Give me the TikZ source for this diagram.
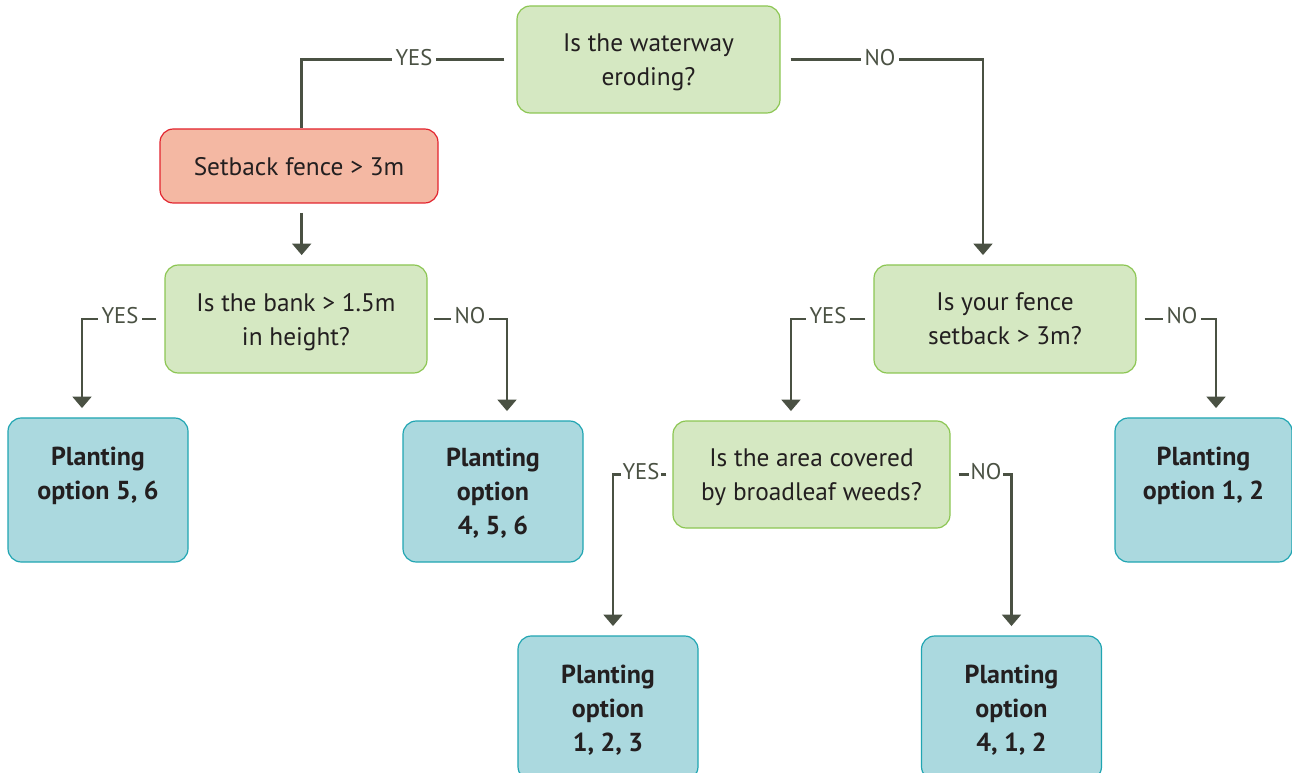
\documentclass[tikz,border=0pt]{standalone}
\usepackage{fontspec}
\setmainfont{PT Sans}
\usetikzlibrary{arrows.meta}
\definecolor{gfill}{HTML}{D5E8C2}
\definecolor{gline}{HTML}{8CC653}
\definecolor{rfill}{HTML}{F4B8A3}
\definecolor{rline}{HTML}{E2242E}
\definecolor{bfill}{HTML}{ABD9DF}
\definecolor{bline}{HTML}{20A5B2}
\definecolor{cline}{HTML}{4A5143}
\definecolor{txt}{HTML}{231F20}
\begin{document}
\begin{tikzpicture}[x=0.75pt,y=-0.75pt,
  box/.style={rounded corners=10pt, line width=0.9pt, align=center, inner sep=0pt,
    font=\fontsize{19}{25.5}\selectfont, text=txt, text depth=0pt},
  qbox/.style={box, fill=gfill, draw=gline},
  rbox/.style={box, fill=rfill, draw=rline},
  pbox/.style={box, fill=bfill, draw=bline, font=\fontsize{19.5}{25.5}\selectfont\bfseries,
    minimum width=135pt, minimum height=108pt},
  conn/.style={draw=cline, line width=1.8pt},
  arr/.style={conn, -{Triangle[width=14pt,length=8.5pt]}, shorten >=7pt},
  lab/.style={fill=white, text=cline, inner xsep=3pt, inner ysep=1pt,
    font=\fontsize{17}{20}\selectfont}
]
\useasboundingbox (0,0) rectangle (1292,773);

% nodes
\node[qbox, minimum width=197.25pt, minimum height=80.25pt] (top) at (648.5,59.5)
  {Is the waterway\\eroding?};
\node[rbox, minimum width=208.5pt, minimum height=55.5pt, text depth=-1.5pt] (setback) at (299,166)
  {Setback fence > 3m};
\node[qbox, minimum width=196.5pt, minimum height=81pt] (bank) at (296,319)
  {Is the bank > 1.5m\\in height?};
\node[qbox, minimum width=196.5pt, minimum height=81pt] (fence) at (1005,319)
  {Is your fence\\setback > 3m?};
\node[qbox, minimum width=207.75pt, minimum height=80.25pt] (weeds) at (811.5,474.5)
  {Is the area covered\\by broadleaf weeds?};
\node[pbox, text depth=-4pt] (p56) at (98,490) {Planting\\option 5, 6\\\strut};
\node[pbox, minimum height=105.75pt] (p456) at (493,491.5) {Planting\\option\\4, 5, 6};
\node[pbox, minimum width=132.75pt, text depth=-4pt] (p12) at (1203.5,490) {Planting\\option 1, 2\\\strut};
\node[pbox] (p123) at (608,708) {Planting\\option\\1, 2, 3};
\node[pbox] (p412) at (1011.5,708) {Planting\\option\\4, 1, 2};

% connectors
\draw[conn] ([xshift=-9pt]top.west) -| ([xshift=2pt]setback.north);
\draw[arr] ([xshift=7.5pt]top.east) -| ([xshift=-16.5pt]fence.north);
\draw[arr, shorten <=7pt] ([xshift=2pt]setback.south) -- ([xshift=2pt]setback.south |- bank.north);
\draw[arr] ([xshift=-6pt]bank.west) -| ([xshift=-12pt]p56.north);
\draw[arr] ([xshift=5pt]bank.east) -| ([xshift=10.5pt]p456.north);
\draw[arr] ([xshift=-6pt]fence.west) -| ([xshift=-15.4pt]weeds.north);
\draw[arr] ([xshift=6pt]fence.east) -| ([xshift=9.4pt]p12.north);
\draw[arr] ([xshift=-4.5pt]weeds.west) -| ([xshift=3.75pt]p123.north);
\draw[arr] ([xshift=6pt]weeds.east) -| ([xshift=0pt]p412.north);

% labels
\node[lab] (l1) at (414,58) {YES};
\node[lab] (l2) at (880,58) {NO};
\node[lab] (l3) at (120,316) {YES};
\node[lab] (l4) at (470,316) {NO};
\node[lab] (l5) at (828,316) {YES};
\node[lab] (l6) at (1182,316) {NO};
\node[lab, inner xsep=1.5pt] (l7) at (641,472) {YES};
\node[lab, inner xsep=1.5pt] (l8) at (986,472) {NO};
\end{tikzpicture}
\end{document}
